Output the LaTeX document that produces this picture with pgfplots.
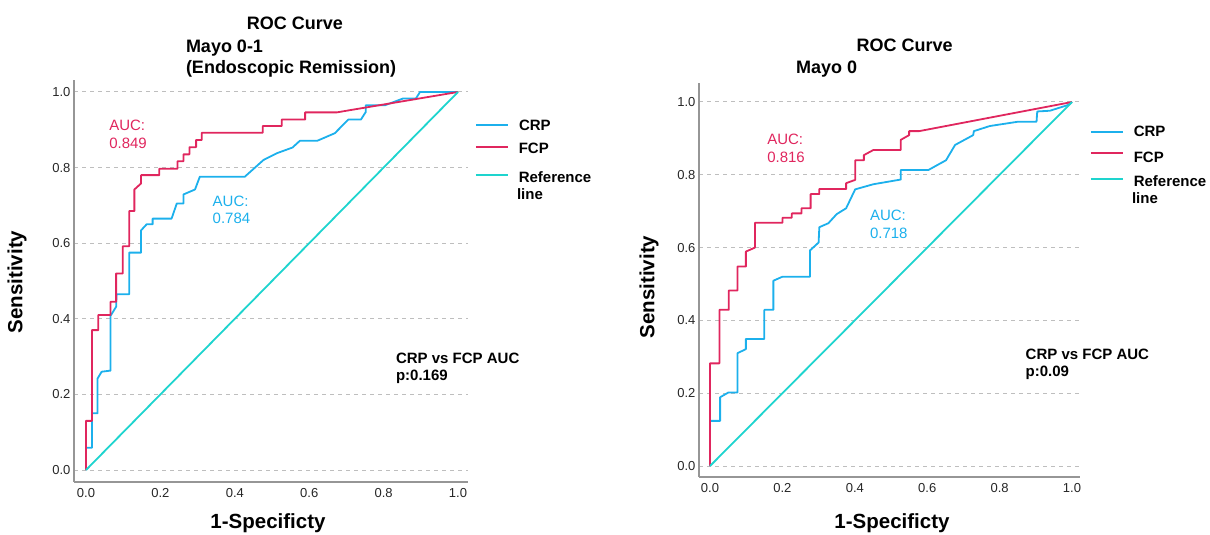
\documentclass[border=0pt]{standalone}
\usepackage{pgfplots}
\pgfplotsset{compat=1.18}
\usepackage{fontspec}
\setmainfont{Liberation Sans}

\definecolor{crpblue}{RGB}{28,176,236}
\definecolor{fcpred}{RGB}{224,38,94}
\definecolor{refcyan}{RGB}{30,212,206}
\definecolor{axisgray}{RGB}{150,150,150}
\definecolor{gridgray}{RGB}{190,190,190}

% ROC curves
\pgfplotstableread{
x y
0 0
0 0.059
0.016 0.059
0.016 0.150
0.031 0.150
0.031 0.242
0.042 0.260
0.066 0.263
0.066 0.408
0.081 0.432
0.082 0.465
0.116 0.465
0.116 0.575
0.148 0.575
0.148 0.634
0.163 0.650
0.179 0.650
0.179 0.665
0.230 0.665
0.244 0.705
0.262 0.705
0.262 0.729
0.293 0.742
0.306 0.776
0.427 0.776
0.477 0.820
0.513 0.838
0.555 0.853
0.575 0.871
0.622 0.871
0.669 0.891
0.705 0.927
0.739 0.927
0.752 0.947
0.752 0.965
0.804 0.965
0.853 0.983
0.887 0.983
0.898 1.0
1 1
}\crpA
\pgfplotstableread{
x y
0 0
0 0.130
0.016 0.130
0.016 0.370
0.033 0.370
0.033 0.410
0.066 0.410
0.066 0.445
0.081 0.445
0.081 0.520
0.099 0.520
0.099 0.592
0.116 0.592
0.116 0.685
0.130 0.685
0.130 0.742
0.148 0.758
0.148 0.780
0.197 0.780
0.197 0.797
0.246 0.797
0.246 0.817
0.262 0.817
0.262 0.835
0.278 0.835
0.278 0.854
0.296 0.854
0.296 0.873
0.311 0.873
0.311 0.892
0.475 0.892
0.475 0.910
0.526 0.910
0.526 0.927
0.589 0.927
0.589 0.946
0.674 0.946
1 1
}\fcpA
\pgfplotstableread{
x y
0 0
0 0.124
0.028 0.124
0.028 0.189
0.051 0.202
0.076 0.202
0.076 0.310
0.099 0.321
0.099 0.349
0.150 0.349
0.150 0.429
0.175 0.429
0.175 0.509
0.200 0.520
0.276 0.520
0.276 0.592
0.300 0.614
0.302 0.656
0.327 0.667
0.350 0.692
0.376 0.708
0.401 0.760
0.451 0.774
0.527 0.787
0.527 0.813
0.603 0.813
0.652 0.840
0.677 0.882
0.727 0.909
0.729 0.920
0.773 0.934
0.852 0.946
0.902 0.946
0.904 0.974
0.939 0.976
0.990 0.992
1 1
}\crpB
\pgfplotstableread{
x y
0 0
0 0.282
0.026 0.282
0.026 0.429
0.052 0.429
0.052 0.482
0.076 0.482
0.076 0.548
0.099 0.548
0.099 0.589
0.124 0.600
0.124 0.668
0.200 0.668
0.200 0.682
0.226 0.682
0.226 0.694
0.253 0.694
0.253 0.708
0.278 0.708
0.278 0.747
0.302 0.747
0.302 0.761
0.376 0.761
0.376 0.777
0.401 0.786
0.401 0.840
0.425 0.840
0.425 0.854
0.451 0.868
0.527 0.868
0.527 0.896
0.550 0.909
0.550 0.920
0.578 0.920
1 1
}\fcpB

\pgfplotsset{
  rocaxis/.style={
    scale only axis,
    axis x line=bottom, axis y line=left,
    axis line style={draw=axisgray, line width=1.2pt, -},
    xtick={0,0.2,0.4,0.6,0.8,1.0},
    ytick={0,0.2,0.4,0.6,0.8,1.0},
    major tick length=0pt,
    ymajorgrids,
    grid style={draw=gridgray, line width=1pt, dash pattern=on 4pt off 4pt},
    tick label style={font=\fontsize{13}{15}\selectfont, text=black!85},
    xticklabel style={yshift=-3pt},
    /pgf/number format/fixed,
    /pgf/number format/fixed zerofill,
    /pgf/number format/precision=1,
    /pgf/number format/assume math mode=true,
    clip=false,
  },
  curve/.style={line width=1.8pt, line join=round},
  % one legend row per hidden axis, so each row sits where the reference has it
  legrow/.style={
    hide axis, scale only axis, width=1pt, height=1pt,
    xmin=0, xmax=1, ymin=0, ymax=1, anchor=south west,
    legend image code/.code={\draw[##1] (0pt,0pt) -- (32pt,0pt);},
    legend style={at={(0,0)}, anchor=west, draw=none, fill=none,
      inner sep=0pt, outer sep=0pt, column sep=10pt,
      font=\fontsize{15}{18}\selectfont\bfseries,
      nodes={inner sep=0pt, outer sep=0pt}},
    legend cell align=left,
  },
}

% #1 x of line start, #2 y of line, #3 image style, #4 text
\newcommand{\legrow}[4]{%
  \begin{axis}[legrow, at={(#1,#2)}]
  \addlegendimage{#3}
  \addlegendentry{#4}
  \end{axis}}

\begin{document}
\begin{tikzpicture}
\useasboundingbox (0,0) rectangle (1210pt,535pt);

\begin{axis}[rocaxis,
  at={(74pt,53pt)}, anchor=south west,
  width=394pt, height=402pt,
  xmin=-0.0323, xmax=1.0269, ymin=-0.0317, ymax=1.0317]
\addplot[curve, crpblue] table {\crpA};
\addplot[curve, fcpred] table {\fcpA};
\addplot[curve, refcyan] coordinates {(0,0) (1,1)};
\end{axis}

\legrow{475pt}{410pt}{crpblue, line width=2pt}{\rule{0pt}{11.6pt}CRP}
\legrow{475pt}{388.3pt}{fcpred, line width=1.8pt}{\rule{0pt}{14.6pt}FCP}
\legrow{475pt}{360pt}{refcyan, line width=1.8pt}{\rule{0pt}{16.6pt}Reference}

\begin{axis}[rocaxis,
  at={(699pt,58pt)}, anchor=south west,
  width=381pt, height=394pt,
  xmin=-0.0304, xmax=1.0221, ymin=-0.0302, ymax=1.0522]
\addplot[curve, crpblue] table {\crpB};
\addplot[curve, fcpred] table {\fcpB};
\addplot[curve, refcyan] coordinates {(0,0) (1,1)};
\end{axis}

\legrow{1090pt}{403.1pt}{crpblue, line width=1.8pt}{CRP}
\legrow{1090pt}{381.7pt}{fcpred, line width=1.8pt}{\rule{0pt}{20pt}FCP}
\legrow{1090pt}{356pt}{refcyan, line width=1.8pt}{\rule{0pt}{16.6pt}Reference}

% titles and annotations
\begin{scope}[every node/.style={inner sep=0pt, outer sep=0pt}]
\node[anchor=base west, font=\fontsize{15}{18}\selectfont\bfseries] at (517pt,335pt) {line};
\node[anchor=base west, font=\fontsize{15}{18}\selectfont\bfseries] at (1132pt,331.7pt) {line};

\node[anchor=base, font=\fontsize{18}{21}\selectfont\bfseries] at (295pt,505.7pt) {ROC Curve};
\node[anchor=base west, font=\fontsize{18}{21}\selectfont\bfseries] at (186pt,482.3pt) {Mayo 0-1};
\node[anchor=base west, font=\fontsize{18}{21}\selectfont\bfseries] at (186pt,461pt) {(Endoscopic Remission)};
\node[anchor=base, font=\fontsize{18}{21}\selectfont\bfseries] at (904.7pt,483pt) {ROC Curve};
\node[anchor=base west, font=\fontsize{18}{21}\selectfont\bfseries] at (796pt,461.7pt) {Mayo 0};

\node[anchor=base west, font=\fontsize{15}{18}\selectfont, text=fcpred] at (109.3pt,404.3pt) {AUC:};
\node[anchor=base west, font=\fontsize{15}{18}\selectfont, text=fcpred] at (109.3pt,386.3pt) {0.849};
\node[anchor=base west, font=\fontsize{15}{18}\selectfont, text=crpblue] at (212.7pt,328.3pt) {AUC:};
\node[anchor=base west, font=\fontsize{15}{18}\selectfont, text=crpblue] at (212.7pt,311pt) {0.784};
\node[anchor=base west, font=\fontsize{15}{18}\selectfont\bfseries] at (396pt,171.7pt) {CRP vs FCP AUC};
\node[anchor=base west, font=\fontsize{15}{18}\selectfont\bfseries] at (396pt,154pt) {p:0.169};

\node[anchor=base west, font=\fontsize{15}{18}\selectfont, text=fcpred] at (767.3pt,390pt) {AUC:};
\node[anchor=base west, font=\fontsize{15}{18}\selectfont, text=fcpred] at (767.3pt,372.7pt) {0.816};
\node[anchor=base west, font=\fontsize{15}{18}\selectfont, text=crpblue] at (870pt,314.3pt) {AUC:};
\node[anchor=base west, font=\fontsize{15}{18}\selectfont, text=crpblue] at (870pt,296.7pt) {0.718};
\node[anchor=base west, font=\fontsize{15}{18}\selectfont\bfseries] at (1025.7pt,175pt) {CRP vs FCP AUC};
\node[anchor=base west, font=\fontsize{15}{18}\selectfont\bfseries] at (1025.7pt,158.3pt) {p:0.09};

\node[rotate=90, font=\fontsize{20.5}{24}\selectfont\bfseries] at (17pt,253pt) {Sensitivity};
\node[font=\fontsize{20.5}{24}\selectfont\bfseries] at (268pt,12pt) {1-Specificty};
\node[rotate=90, font=\fontsize{20.5}{24}\selectfont\bfseries] at (649pt,248pt) {Sensitivity};
\node[font=\fontsize{20.5}{24}\selectfont\bfseries] at (892pt,12pt) {1-Specificty};
\end{scope}
\end{tikzpicture}
\end{document}
